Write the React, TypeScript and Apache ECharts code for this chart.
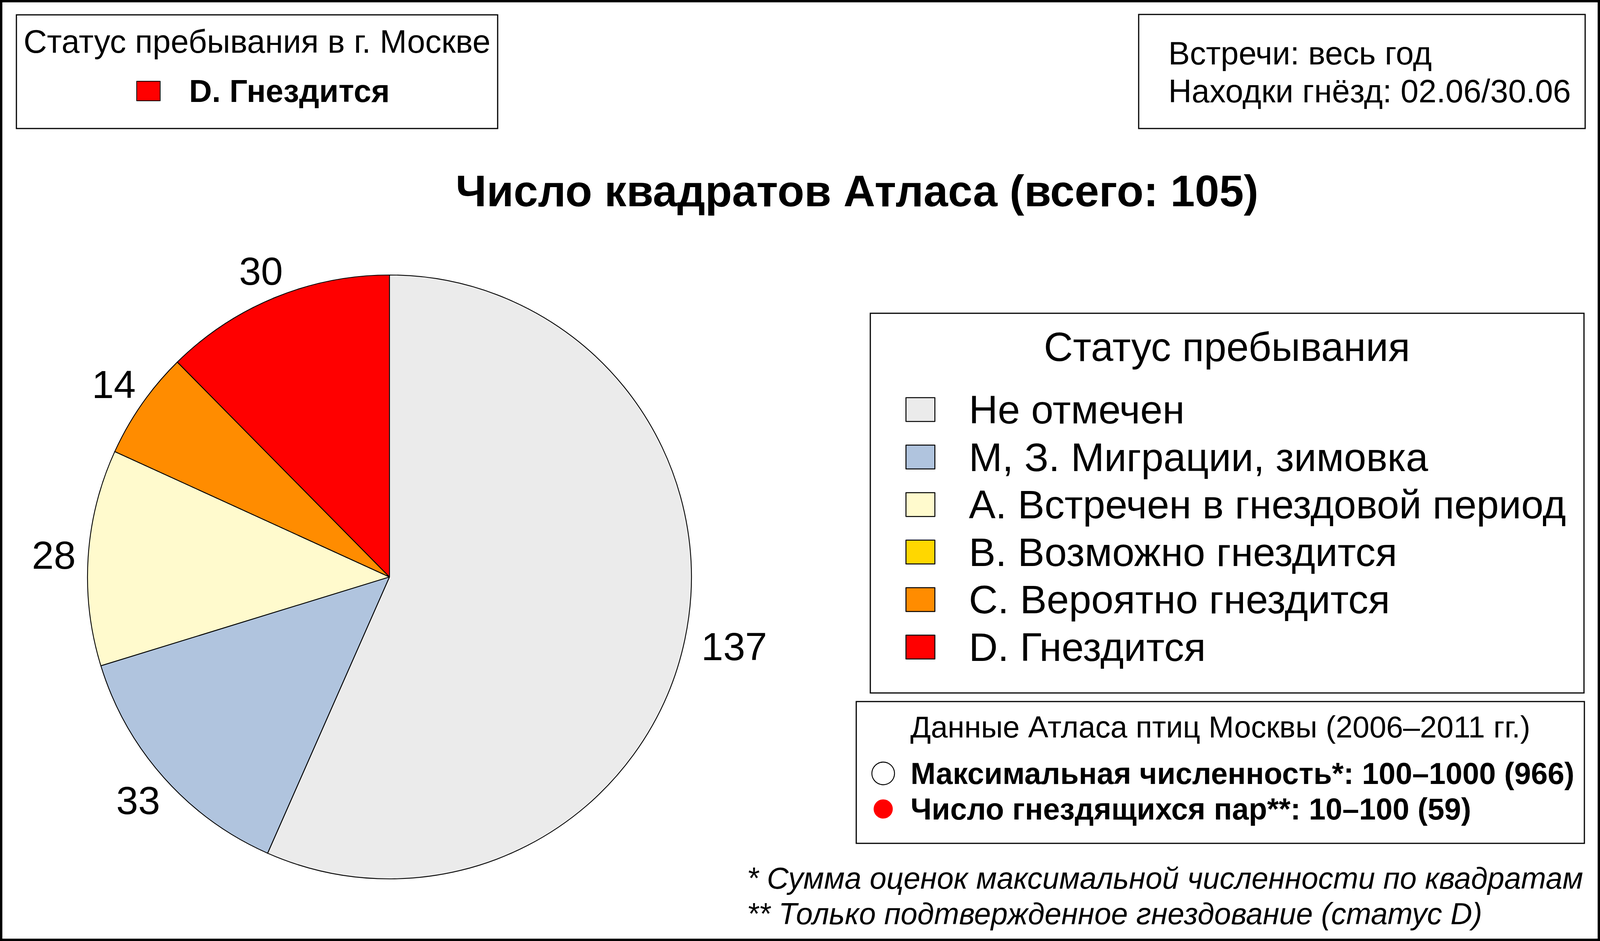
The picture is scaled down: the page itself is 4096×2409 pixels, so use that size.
import React, { useEffect, useRef } from "react";
import * as echarts from "echarts";

// ---- data ----
const categories = [
  "Не отмечен",
  "М, З. Миграции, зимовка",
  "А. Встречен в гнездовой период",
  "В. Возможно гнездится",
  "С. Вероятно гнездится",
  "D. Гнездится",
];
const squareCounts = [137, 33, 28, 0, 14, 30];
const sliceColors = ["#EBEBEB", "#B0C4DE", "#FFFACD", "#FFD700", "#FF8C00", "#FF0000"];
const cityStatus = ["D. Гнездится"];
const mainTitle = "Число квадратов Атласа (всего: 105)";
const statusBoxTitle = "Статус пребывания в г. Москве";
const infoLines = ["Встречи: весь год", "Находки гнёзд: 02.06/30.06"];
const legendTitle = "Статус пребывания";
const atlasTitle = "Данные Атласа птиц Москвы (2006–2011 гг.)";
const atlasItems = [
  "Максимальная численность*: 100–1000 (966)",
  "Число гнездящихся пар**: 10–100 (59)",
];
const atlasMarkerFill = ["#FFFFFF", "#FF0000"];
const atlasMarkerStroke = ["#000000", "#FF0000"];
const footnotes = [
  "* Сумма оценок максимальной численности по квадратам",
  "** Только подтвержденное гнездование (статус D)",
];

const FONT = "'Liberation Sans', Arial, sans-serif";
// small label nudges (style only)
const labelNudge: Record<number, number[]> = { 0: [40, 0], 5: [-2, 14] };

export default function App() {
  const ref = useRef<HTMLDivElement>(null);

  useEffect(() => {
    if (!ref.current) return;
    const chart = echarts.init(ref.current, undefined, { renderer: "svg" });

    const cx = 997;
    const cy = 1477;
    const R = 773;

    const mainData = categories.map((name, i) => ({
      name,
      value: squareCounts[i],
      itemStyle: { color: sliceColors[i] },
    }));
    const labelData = categories.map((name, i) => ({
      name,
      value: squareCounts[i],
      itemStyle: { color: "rgba(0,0,0,0)" },
      label: {
        show: squareCounts[i] > 0,
        offset: labelNudge[i] || [0, 0],
      },
    }));

    const text = (x: number, y: number, t: string, size: number, opts: any = {}) => ({
      type: "text",
      x,
      y,
      silent: true,
      style: {
        text: t,
        fontSize: size,
        fontFamily: FONT,
        fontWeight: opts.weight || "normal",
        fontStyle: opts.style || "normal",
        fill: "#000",
        align: opts.align || "left",
        verticalAlign: "middle",
      },
    });
    const box = (x1: number, y1: number, x2: number, y2: number, lw = 3) => ({
      type: "rect",
      silent: true,
      shape: { x: x1, y: y1, width: x2 - x1, height: y2 - y1 },
      style: { fill: "none", stroke: "#000", lineWidth: lw },
    });

    const graphics: any[] = [
      box(3, 3, 4093, 2406, 6),
      box(42, 38, 1274, 329),
      box(2915, 37, 4058, 329),
      box(2228, 802, 4055, 1774),
      box(2192, 1796, 4056, 2159),
      text(658, 106, statusBoxTitle, 83, { align: "center" }),
      text(2991, 136, infoLines[0], 82.5),
      text(2991, 233, infoLines[1], 82.5),
      text(2194, 489, mainTitle, 112.5, { weight: "bold", align: "center" }),
      text(3141, 888, legendTitle, 103, { align: "center" }),
      text(3124, 1861, atlasTitle, 77.5, { align: "center" }),
      text(1912, 2248, footnotes[0], 77, { style: "italic" }),
      text(1912, 2339, footnotes[1], 77, { style: "italic" }),
    ];
    atlasItems.forEach((t, i) => {
      const y = 1980 + i * 91;
      graphics.push({
        type: "circle",
        silent: true,
        shape: { cx: 2261, cy: y, r: i === 0 ? 29 : 24.5 },
        style: { fill: atlasMarkerFill[i], stroke: atlasMarkerStroke[i], lineWidth: i === 0 ? 2.3 : 0 },
      });
      graphics.push(text(2331, y, t, 77, { weight: "bold" }));
    });

    chart.setOption({
      animation: false,
      backgroundColor: "#FFFFFF",
      textStyle: { fontFamily: FONT },
      legend: [
        {
          data: categories,
          orient: "vertical",
          left: 2318,
          top: 997,
          padding: 0,
          itemGap: 18.6,
          itemWidth: 74,
          itemHeight: 61,
          icon: "rect",
          selectedMode: false,
          itemStyle: { borderColor: "#000", borderWidth: 2.5 },
          textStyle: {
            fontSize: 102.5,
            lineHeight: 102,
            fontFamily: FONT,
            color: "#000",
            padding: [0, 0, 0, 82],
          },
        },
        {
          data: cityStatus,
          orient: "vertical",
          left: 349,
          top: 192.5,
          padding: 0,
          itemWidth: 60,
          itemHeight: 50,
          icon: "rect",
          selectedMode: false,
          itemStyle: { borderColor: "#000", borderWidth: 2 },
          textStyle: {
            fontSize: 81,
            lineHeight: 81,
            fontWeight: "bold",
            fontFamily: FONT,
            color: "#000",
            padding: [0, 0, 0, 69],
          },
        },
      ],
      graphic: { elements: graphics },
      series: [
        {
          type: "pie",
          name: "status",
          center: [cx, cy],
          radius: R,
          startAngle: 90,
          clockwise: true,
          silent: true,
          label: { show: false },
          labelLine: { show: false },
          itemStyle: { borderColor: "#000", borderWidth: 2.2 },
          emphasis: { disabled: true },
          data: mainData,
        },
        {
          type: "pie",
          name: "labels",
          center: [cx, cy],
          radius: [R * 1.05, R * 1.17],
          startAngle: 90,
          clockwise: true,
          silent: true,
          label: {
            position: "inside",
            fontSize: 101,
            fontFamily: FONT,
            color: "#000",
            formatter: "{c}",
          },
          labelLine: { show: false },
          itemStyle: { borderWidth: 0 },
          emphasis: { disabled: true },
          data: labelData,
        },
      ],
    });

    return () => chart.dispose();
  }, []);

  return (
    <div
      ref={ref}
      style={{ position: "fixed", left: 0, top: 0, width: 4096, height: 2409 }}
    />
  );
}
